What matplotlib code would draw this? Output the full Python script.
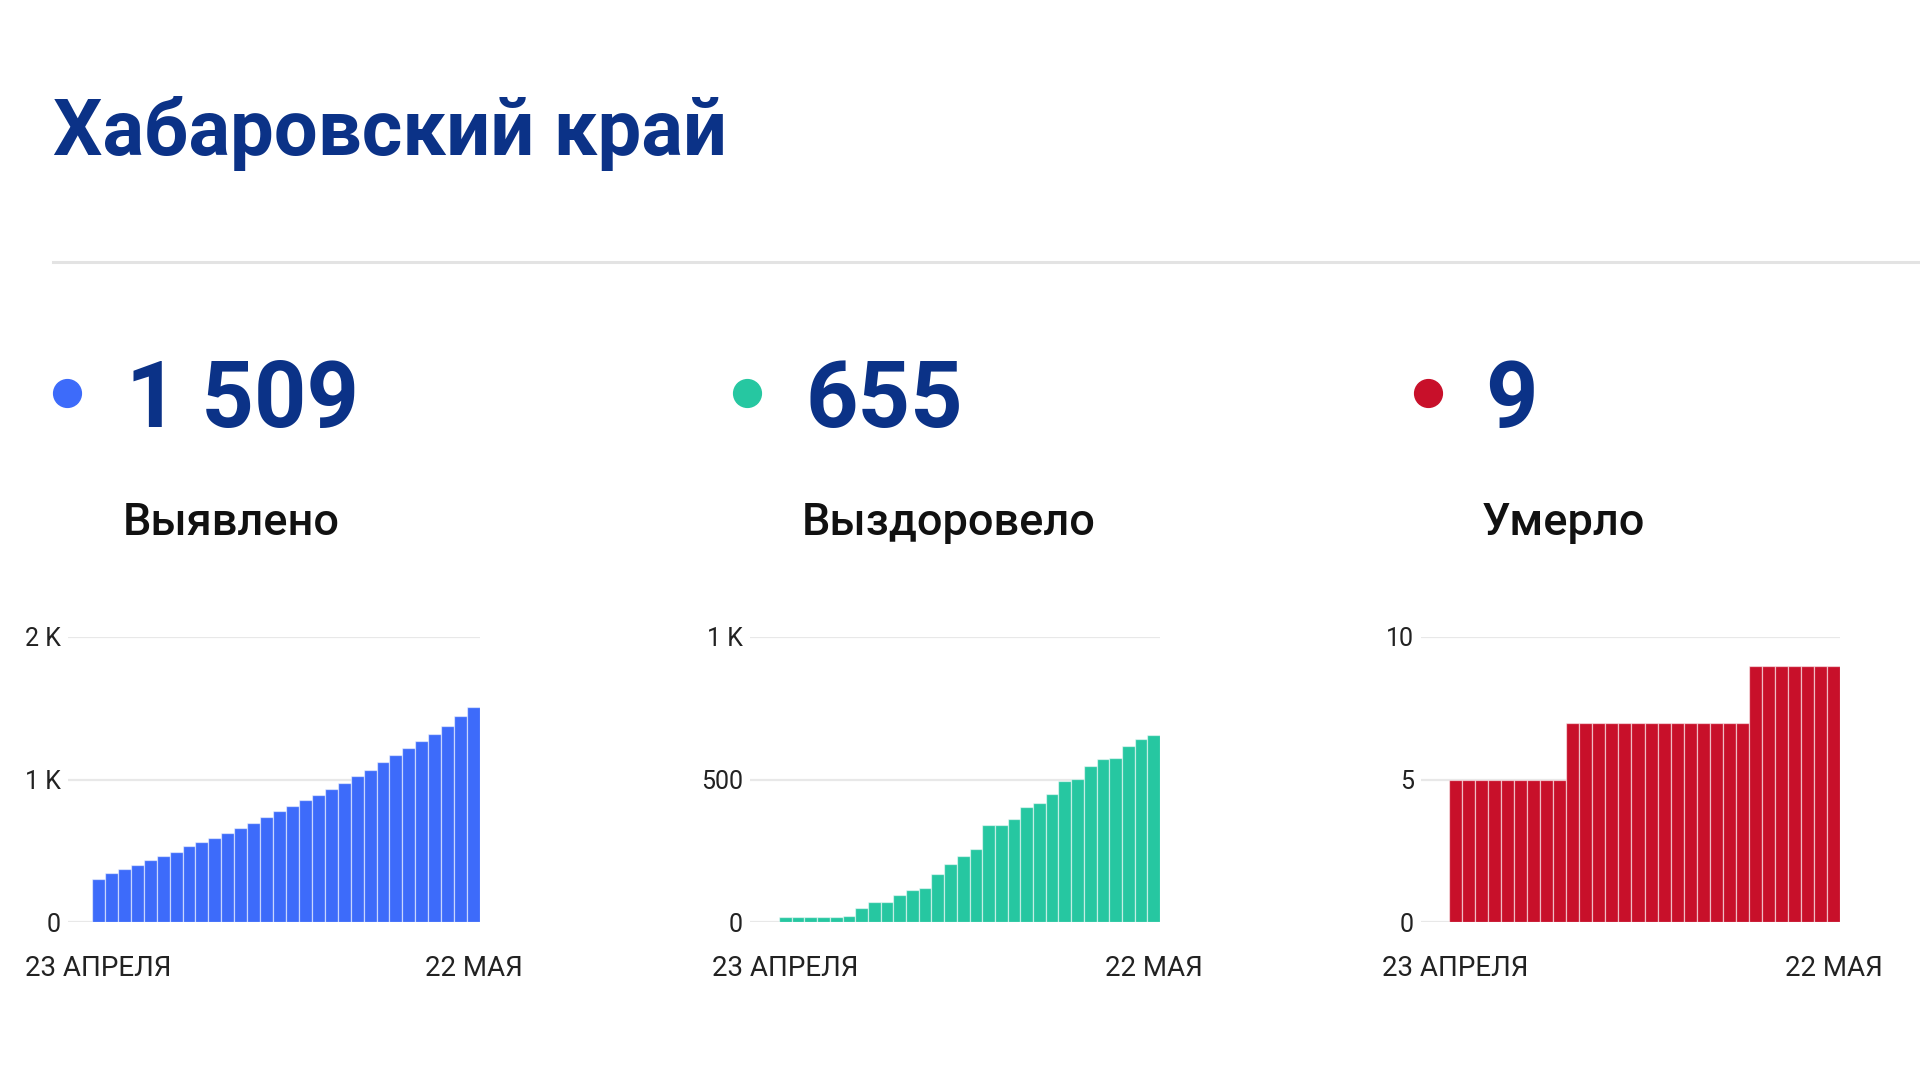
import matplotlib
matplotlib.use("Agg")
import matplotlib.pyplot as plt
from matplotlib.lines import Line2D
import numpy as np

plt.rcParams['font.family'] = ['Roboto', 'DejaVu Sans']

# ---------------- data ----------------
title = "Хабаровский край"
date_labels = ["23 АПРЕЛЯ", "22 МАЯ"]

detected = [304, 347, 375, 400, 433, 461, 494, 532, 562, 590,
            625, 663, 696, 735, 778, 817, 857, 892, 932, 974,
            1023, 1070, 1122, 1173, 1222, 1272, 1321, 1377, 1443, 1509]
recovered = [16, 19, 19, 19, 19, 22, 50, 70, 70, 96,
             114, 119, 170, 203, 232, 255, 342, 342, 363, 405,
             419, 450, 495, 501, 546, 571, 576, 617, 641, 655]
died = [5, 5, 5, 5, 5, 5, 5, 5, 5,
        7, 7, 7, 7, 7, 7, 7, 7, 7, 7, 7, 7, 7, 7,
        9, 9, 9, 9, 9, 9, 9]

totals = ["1 509", "655", "9"]
names = ["Выявлено", "Выздоровело", "Умерло"]
yticks = [[0, 1000, 2000], [0, 500, 1000], [0, 5, 10]]
ytick_labels = [["0", "1 K", "2 K"], ["0", "500", "1 K"], ["0", "5", "10"]]

# ---------------- style ----------------
W, H = 1920, 1080
NAVY = "#0b3287"
COLORS = ["#3d6bfa", "#26c7a1", "#c8102a"]

fig = plt.figure(figsize=(W / 100, H / 100), dpi=100)
fig.patch.set_facecolor("white")


def fx(px):
    return px / W


def fy(py):
    return 1 - py / H


# title
fig.text(fx(53), fy(155), title, fontsize=56, fontweight="bold", color=NAVY,
         va="baseline", ha="left")
# separator
fig.add_artist(Line2D([fx(53), fx(1920)], [fy(262), fy(262)], color="#e3e3e3",
                      lw=2.2, transform=fig.transFigure))

series = [detected, recovered, died]
# per panel: (gridline start px, bars start px, bars end px)
panels = [(68, 92, 480), (750, 779, 1160), (1421, 1449, 1840)]
col_x = [126, 805, 1485]
dot_x = [67, 747, 1428]

y0_px, ytop_px = 922, 637

for i in range(3):
    # dot
    fig.add_artist(Line2D([fx(dot_x[i])], [fy(393)], marker="o", markersize=20,
                          color=COLORS[i], transform=fig.transFigure, lw=0))
    # big number
    fig.text(fx(col_x[i]), fy(427), totals[i], fontsize=66, fontweight="bold",
             color=NAVY, va="baseline", ha="left")
    # label
    fig.text(fx(col_x[i] - 3), fy(535), names[i], fontsize=32.5, fontweight="medium",
             color="#111111", va="baseline", ha="left")

    g0, b0, b1 = panels[i]
    vals = series[i]
    n = len(vals)
    unit = (b1 - b0) / n
    pad = (b0 - g0) / unit
    ax = fig.add_axes([fx(g0), fy(y0_px), (b1 - g0) / W, (y0_px - ytop_px) / H])
    x = np.arange(n)
    ax.bar(x, vals, width=1.0, color=COLORS[i], edgecolor=(1, 1, 1, 0.55),
           linewidth=0.9, zorder=3)
    ax.set_xlim(-0.5 - pad, n - 0.5)
    ax.set_ylim(yticks[i][0], yticks[i][-1])
    ax.set_yticks(yticks[i])
    ax.set_yticklabels(ytick_labels[i])
    ax.grid(axis="y", color="#e8e8e8", lw=1.6, zorder=0)
    ax.set_xticks([0, n - 1])
    ax.set_xticklabels(date_labels)
    ax.tick_params(axis="y", length=0, pad=5, labelsize=18, labelcolor="#222222")
    ax.tick_params(axis="x", length=0, pad=24, labelsize=20, labelcolor="#222222")
    for s in ax.spines.values():
        s.set_visible(False)
    ax.set_facecolor("none")

fig.savefig("out.png", dpi=100, facecolor="white")
